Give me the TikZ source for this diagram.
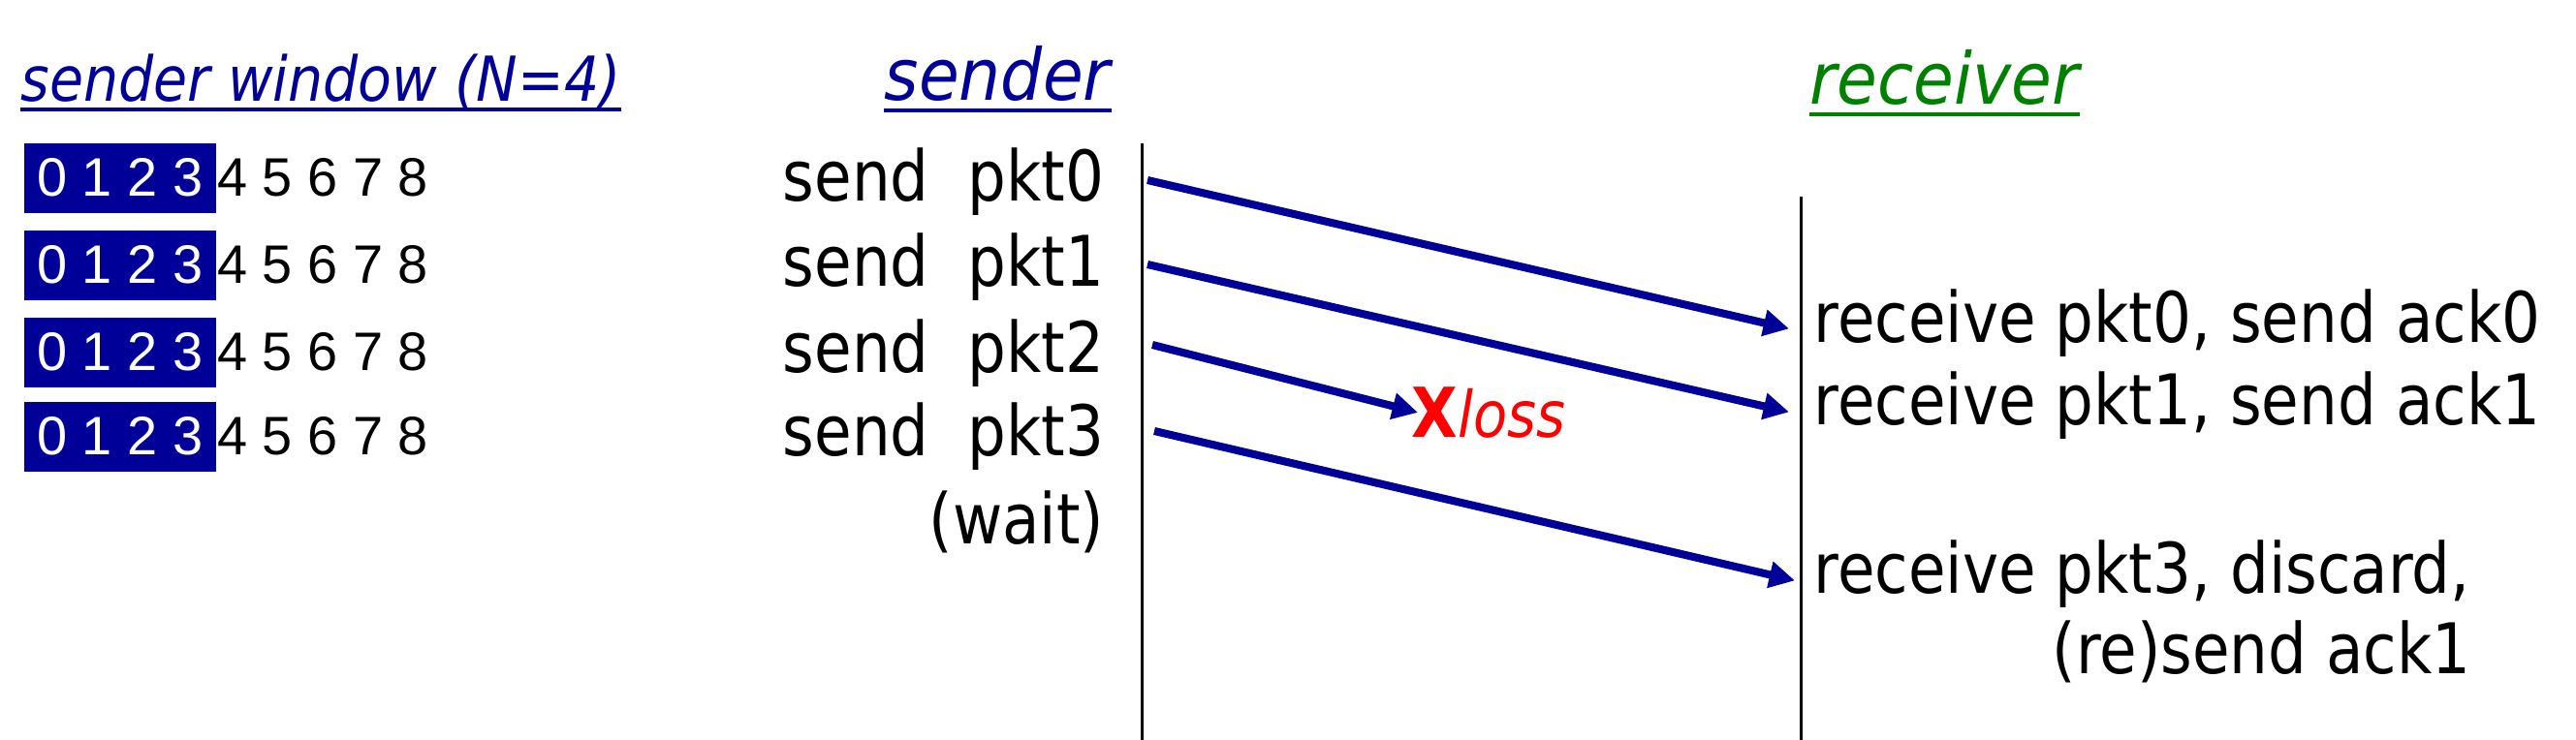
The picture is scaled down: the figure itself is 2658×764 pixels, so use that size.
\documentclass[tikz,border=0pt]{standalone}
\usepackage{fontspec}
\setmainfont{DejaVu Sans}[FakeStretch=0.87]
\newfontfamily\digitfont{Liberation Sans}
\newfontfamily\headfont{DejaVu Sans}[FakeStretch=0.92]
\newfontfamily\winheadfont{DejaVu Sans}[FakeStretch=0.89]
\usepackage{tikz}
\usetikzlibrary{arrows.meta, positioning}
\definecolor{windowblue}{RGB}{0, 0, 153}
\definecolor{receivergreen}{RGB}{0, 128, 0}
\definecolor{lossred}{RGB}{255, 0, 0}

\begin{document}
\begin{tikzpicture}[x=0.01cm, y=-0.01cm,
    msg/.style={inner sep=0pt, font=\fontsize{20.5pt}{24pt}\selectfont},
    heading/.style={inner sep=0pt, text=#1, font=\headfont\itshape\fontsize{21pt}{25pt}\selectfont},
    winhead/.style={inner sep=0pt, text=windowblue, font=\winheadfont\itshape\fontsize{18.2pt}{22pt}\selectfont},
    window/.style={fill=windowblue, text=white, inner sep=0pt, minimum width=1.98cm,
                   minimum height=0.72cm, anchor=north west, font=\digitfont\fontsize{15.9pt}{19pt}\selectfont},
    rest/.style={inner sep=0pt, right=0pt of #1, font=\digitfont\fontsize{15.9pt}{19pt}\selectfont},
    timeline/.style={line width=0.85pt},
    pkt/.style={-{Triangle[length=7.5pt, width=7.5pt]}, line width=2.3pt, draw=windowblue}
]
    \useasboundingbox (0,0) rectangle (2658,764);

    % headings
    \node[winhead, anchor=base west] (winhead) at (21,105) {sender window (N=4)};
    \node[heading=windowblue, anchor=base west] (sndhead) at (912,104) {sender};
    \node[heading=receivergreen, anchor=base west] (rcvhead) at (1867,108) {receiver};
    \draw[windowblue, line width=1pt] ([yshift=-0.08cm]winhead.base west) -- ([yshift=-0.08cm]winhead.base east);
    \draw[windowblue, line width=1pt] ([yshift=-0.1cm]sndhead.base west) -- ([yshift=-0.1cm]sndhead.base east);
    \draw[receivergreen, line width=1pt] ([yshift=-0.1cm]rcvhead.base west) -- ([yshift=-0.1cm]rcvhead.base east);

    % sender window
    \node[window] (w0) at (24,147) {0 1 2 3};
    \node[rest=w0] (n0) {4 5 6 7 8};
    \node[window] (w1) at (24,237) {0 1 2 3};
    \node[rest=w1] (n1) {4 5 6 7 8};
    \node[window] (w2) at (24,327) {0 1 2 3};
    \node[rest=w2] (n2) {4 5 6 7 8};
    \node[window] (w3) at (24,414) {0 1 2 3};
    \node[rest=w3] (n3) {4 5 6 7 8};

    % sender side
    \node[msg, anchor=base east] (s0) at (1140,208) {send~~pkt0};
    \node[msg, anchor=base east] (s1) at (1140,296) {send~~pkt1};
    \node[msg, anchor=base east] (s2) at (1140,384) {send~~pkt2};
    \node[msg, anchor=base east] (s3) at (1140,471) {send~~pkt3};
    \node[msg, anchor=base east] (wait) at (1140,561) {(wait)};

    % receiver side
    \node[msg, anchor=base west] (r0) at (1871,354) {receive pkt0, send ack0};
    \node[msg, anchor=base west] (r1) at (1871,439) {receive pkt1, send ack1};
    \node[msg, anchor=base west] (r3) at (1871,612) {receive pkt3, discard,};
    \node[msg, anchor=base west] (r4) at (2117,695) {(re)send ack1};

    \node[inner sep=0pt, anchor=base west, text=lossred, font=\fontsize{18.8pt}{22pt}\selectfont]
        (loss) at (1456,452) {{\fontsize{20.2pt}{24pt}\selectfont\bfseries X}\itshape loss};

    % time lines
    \draw[timeline] (1178,148) -- (1178,764);
    \draw[timeline] (1858,203) -- (1858,764);

    \coordinate (p0) at (1184,186);
    \coordinate (p1) at (1184,273);
    \coordinate (p2) at (1189,356);
    \coordinate (p3) at (1191,445);

    \draw[pkt] (p0) -- ([xshift=-0.25cm, yshift=0.05cm]r0.mid west);
    \draw[pkt] (p1) -- ([xshift=-0.25cm, yshift=0.04cm]r1.mid west);
    \draw[pkt] (p2) -- ([xshift=0.07cm, yshift=0.165cm]loss.mid west);
    \draw[pkt] (p3) -- ([xshift=-0.19cm, yshift=0.03cm]r3.mid west);
\end{tikzpicture}
\end{document}
